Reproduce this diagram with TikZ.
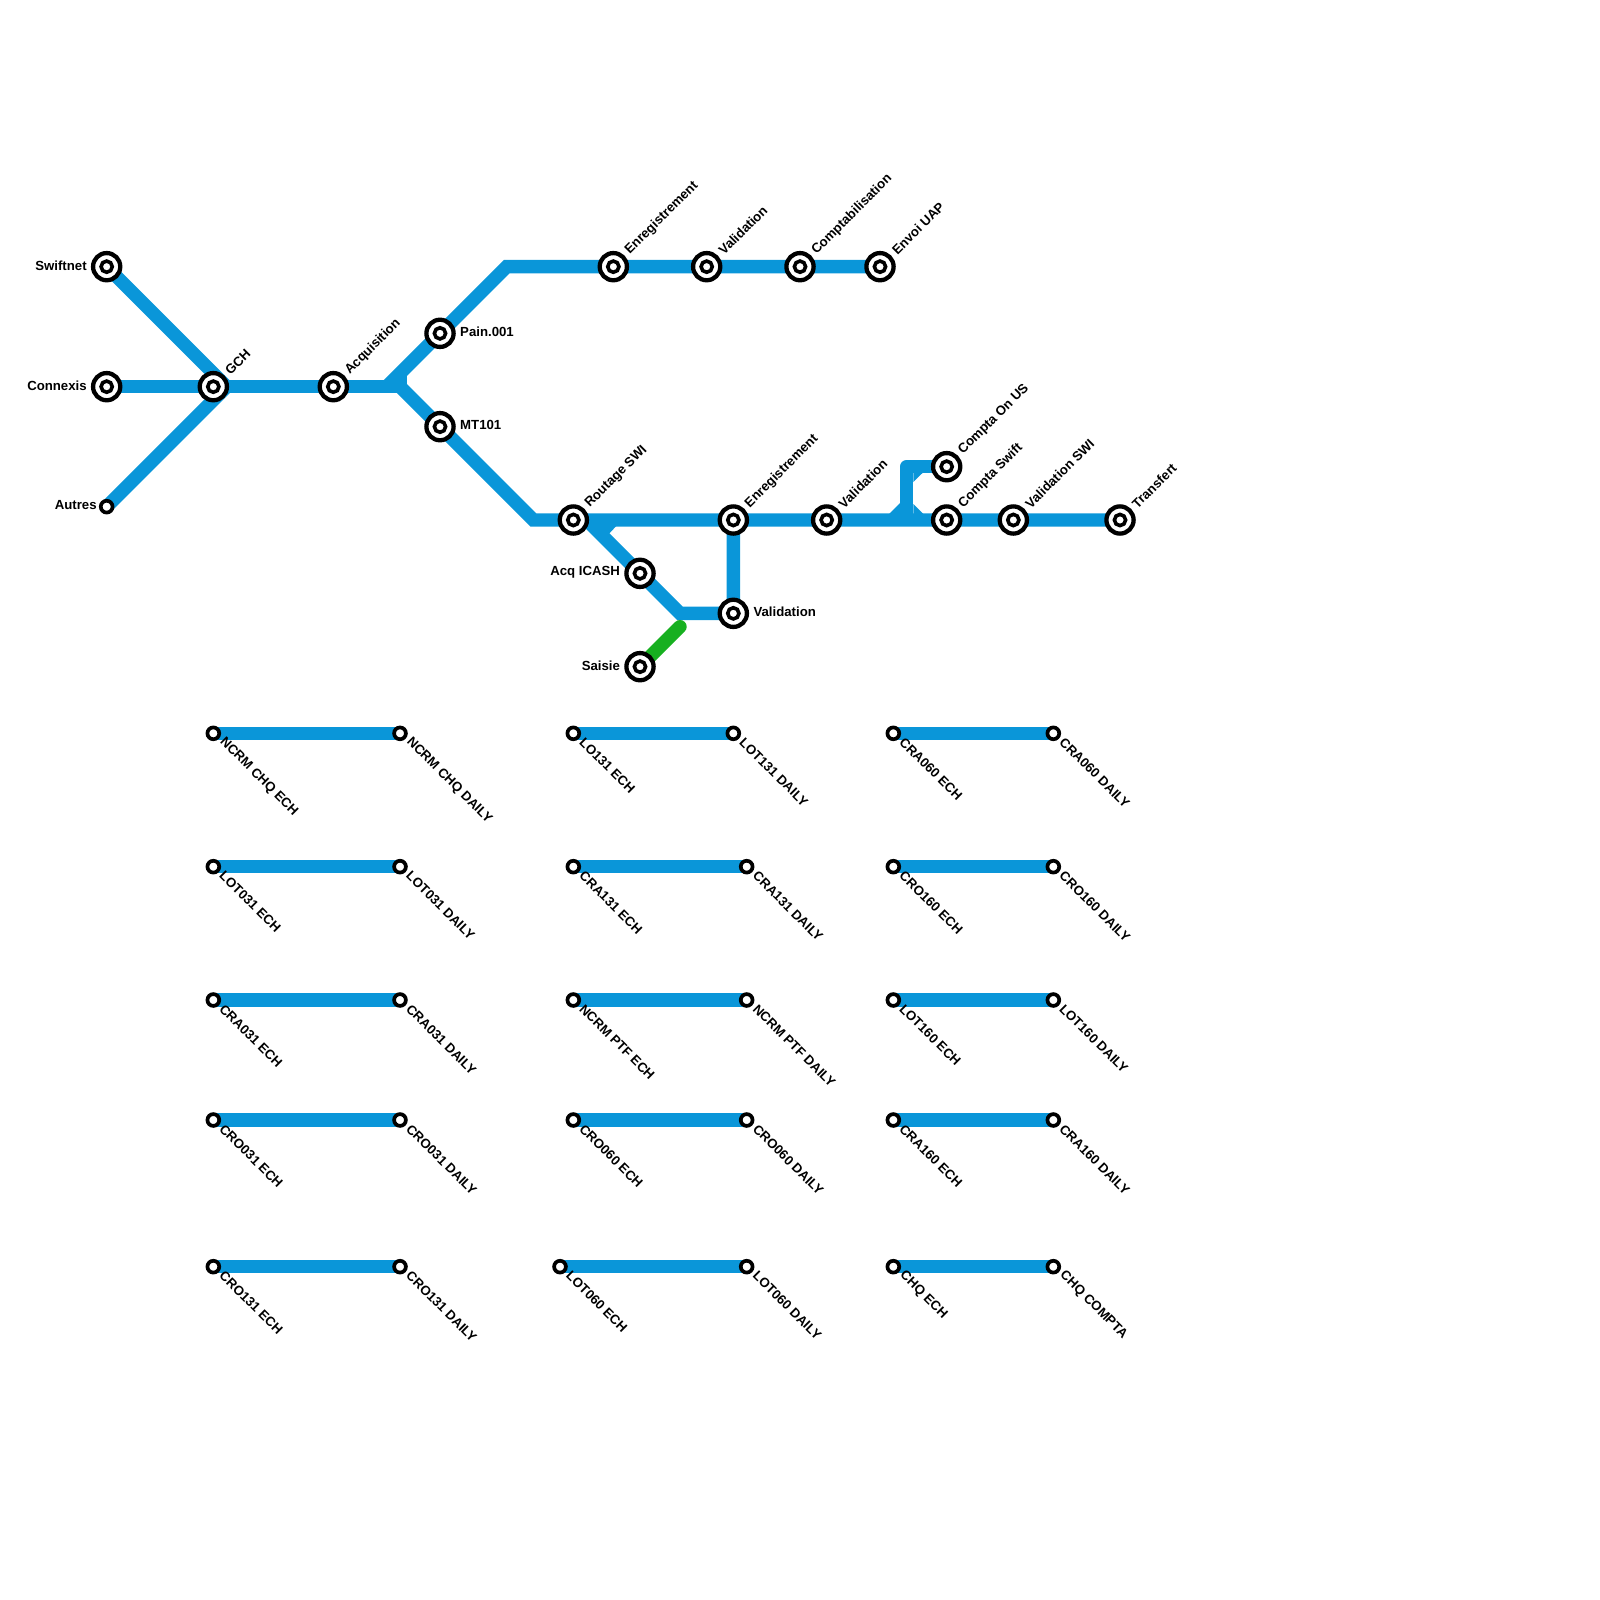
\documentclass[tikz,border=0pt]{standalone}
\usepackage{fontspec}
\setmainfont{Liberation Sans}
\usetikzlibrary{backgrounds}
\definecolor{metroblue}{RGB}{10,150,217}
\definecolor{metrogreen}{RGB}{23,176,32}
\tikzset{
  station/.style={circle,draw=black,fill=white,line width=4.3pt,minimum size=27.2pt,inner sep=0pt,
    path picture={\draw[black,line width=3.6pt] (path picture bounding box.center) circle (5.6pt);}},
  terminal/.style={circle,draw=black,fill=white,line width=3.7pt,minimum size=11.8pt,inner sep=0pt},
  txt/.style={font=\fontsize{13.2}{13.2}\selectfont\bfseries,text=black,inner sep=0pt,outer sep=0pt},
  lblne/.style={txt,rotate=45,anchor=west},
  lblse/.style={txt,rotate=-45,anchor=west},
  lble/.style={txt,anchor=west},
  lblw/.style={txt,anchor=east},
  track/.style={draw=metroblue,line width=13.4pt,line join=miter,line cap=butt},
  trackg/.style={draw=metrogreen,line width=13.4pt,line cap=round},
  fillet/.style={fill=metroblue,draw=none}
}
\newcommand{\lne}[2]{\node[lblne] at ([shift={(14.2,-14.3)}]#1.center) {#2};}
\newcommand{\lse}[2]{\node[lblse] at ([shift={(8.6,6.8)}]#1.center) {#2};}
\newcommand{\lea}[2]{\node[lble] at ([shift={(20.2,-1.3)}]#1.center) {#2};}
\newcommand{\lwe}[2]{\node[lblw] at ([shift={(-20,-1.3)}]#1.center) {#2};}
\newcommand{\tline}[7]{%
  \node[terminal] (#1) at (#2,#4) {};
  \node[terminal] (#5) at (#3,#4) {};
  \begin{scope}[on background layer]\draw[track] (#1.center) -- (#5.center);\end{scope}
  \lse{#1}{#6}\lse{#5}{#7}}
\begin{document}
\begin{tikzpicture}[x=1pt,y=-1pt]
\useasboundingbox (0,0) rectangle (1600,1600);
% stations
\node[station] (swiftnet) at (106.67,266.67) {};
\node[station] (connexis) at (106.67,386.67) {};
\node[terminal] (autres) at (106.67,506.67) {};
\node[station] (gch) at (213.33,386.67) {};
\node[station] (acq) at (333.33,386.67) {};
\node[station] (pain) at (440,333.33) {};
\node[station] (mt) at (440,426.67) {};
\node[station] (enrA) at (613.33,266.67) {};
\node[station] (valA) at (706.67,266.67) {};
\node[station] (cptA) at (800,266.67) {};
\node[station] (uap) at (880,266.67) {};
\node[station] (rout) at (573.33,520) {};
\node[station] (enrB) at (733.33,520) {};
\node[station] (valB) at (826.67,520) {};
\node[station] (cus) at (946.67,466.67) {};
\node[station] (cswift) at (946.67,520) {};
\node[station] (vswi) at (1013.33,520) {};
\node[station] (transf) at (1120,520) {};
\node[station] (icash) at (640,573.33) {};
\node[station] (valC) at (733.33,613.33) {};
\node[station] (saisie) at (640,666.67) {};
% free points
\coordinate (j0) at (226.67,386.67);
\coordinate (j1a) at (386.67,386.67);
\coordinate (j1) at (400,386.67);
\coordinate (t1) at (506.67,266.67);
\coordinate (t2) at (533.33,520);
\coordinate (j2) at (586.67,520);
\coordinate (t3) at (680,613.33);
\coordinate (g1) at (680,626.67);
\coordinate (j3) at (906.67,520);
\coordinate (t4) at (906.67,466.67);
\begin{scope}[on background layer]
\draw[track] (swiftnet.center) -- (j0);
\draw[track] (autres.center) -- (j0);
\draw[track] (connexis.center) -- (gch.center) -- (acq.center) -- (j1);
\draw[track] (j1a) -- (pain.center) -- (t1) -- (enrA.center) -- (uap.center);
\draw[track] (j1) -- (mt.center) -- (t2) -- (rout.center) -- (transf.center);
\draw[track] (j2) -- (icash.center) -- (t3) -- (valC.center) -- (enrB.center);
\draw[track,line join=round] (j3) -- (t4) -- (cus.center);
\fill[fillet] (393,384) -- (406.8,375.9) -- (406.8,384.2) -- (404,390) -- cycle;
\fill[fillet] (590,526) -- (616.3,526) -- (609.3,533.5) -- (596,535) -- cycle;
\fill[fillet] (900.1,503) -- (900.1,520) -- (883,520) -- cycle;
\fill[fillet] (913.3,504) -- (929.4,520) -- (913.3,520) -- cycle;
\fill[fillet] (913.3,482) -- (913.3,473) -- (922.5,473) -- cycle;
\draw[trackg] (saisie.center) -- (g1);
\end{scope}
% labels
\lwe{swiftnet}{Swiftnet}
\lwe{connexis}{Connexis}
\node[lblw] at ([shift={(-10,-1.3)}]autres.center) {Autres};
\lne{gch}{GCH}
\lne{acq}{Acquisition}
\lea{pain}{Pain.001}
\lea{mt}{MT101}
\lne{enrA}{Enregistrement}
\lne{valA}{Validation}
\lne{cptA}{Comptabilisation}
\lne{uap}{Envoi UAP}
\lne{rout}{Routage SWI}
\lne{enrB}{Enregistrement}
\lne{valB}{Validation}
\lne{cus}{Compta On US}
\lne{cswift}{Compta Swift}
\lne{vswi}{Validation SWI}
\lne{transf}{Transfert}
\lwe{icash}{Acq ICASH}
\lea{valC}{Validation}
\lwe{saisie}{Saisie}
% lower lines
\tline{a1}{213.33}{400}{733.33}{a2}{NCRM CHQ ECH}{NCRM CHQ DAILY}
\tline{b1}{213.33}{400}{866.67}{b2}{LOT031 ECH}{LOT031 DAILY}
\tline{c1}{213.33}{400}{1000}{c2}{CRA031 ECH}{CRA031 DAILY}
\tline{d1}{213.33}{400}{1120}{d2}{CRO031 ECH}{CRO031 DAILY}
\tline{e1}{213.33}{400}{1266.67}{e2}{CRO131 ECH}{CRO131 DAILY}
\tline{f1}{573.33}{733.33}{733.33}{f2}{LO131 ECH}{LOT131 DAILY}
\tline{g1x}{573.33}{746.67}{866.67}{g2}{CRA131 ECH}{CRA131 DAILY}
\tline{h1}{573.33}{746.67}{1000}{h2}{NCRM PTF ECH}{NCRM PTF DAILY}
\tline{i1}{573.33}{746.67}{1120}{i2}{CRO060 ECH}{CRO060 DAILY}
\tline{k1}{560}{746.67}{1266.67}{k2}{LOT060 ECH}{LOT060 DAILY}
\tline{m1}{893.33}{1053.33}{733.33}{m2}{CRA060 ECH}{CRA060 DAILY}
\tline{n1}{893.33}{1053.33}{866.67}{n2}{CRO160 ECH}{CRO160 DAILY}
\tline{o1}{893.33}{1053.33}{1000}{o2}{LOT160 ECH}{LOT160 DAILY}
\tline{p1}{893.33}{1053.33}{1120}{p2}{CRA160 ECH}{CRA160 DAILY}
\tline{q1}{893.33}{1053.33}{1266.67}{q2}{CHQ ECH}{CHQ COMPTA}
\end{tikzpicture}
\end{document}
